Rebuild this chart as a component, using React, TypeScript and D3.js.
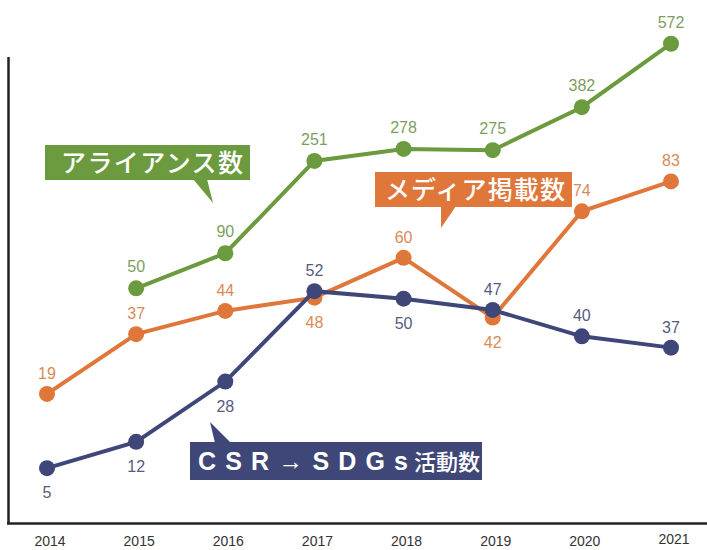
import React from "react";
import * as d3 from "d3";

const years = ["2014", "2015", "2016", "2017", "2018", "2019", "2020", "2021"];
const allianceYears = ["2015", "2016", "2017", "2018", "2019", "2020", "2021"];
const allianceValues = [50, 90, 251, 278, 275, 382, 572];
const mediaValues = [19, 37, 44, 48, 60, 42, 74, 83];
const sdgsValues = [5, 12, 28, 52, 50, 47, 40, 37];

const allianceLabel = "アライアンス数";
const mediaLabel = "メディア掲載数";
const sdgsLatin = "CSR→SDGs";
const sdgsKanji = "活動数";

// label placement: 1 = above the point, -1 = below
const mediaLabelSide = [1, 1, 1, -1, 1, -1, 1, 1];
const sdgsLabelSide = [-1, -1, -1, 1, -1, 1, 1, 1];

const GREEN = "#6b9a3f";
const GREEN_TXT = "#7d9e60";
const ORANGE = "#e0773a";
const ORANGE_TXT = "#d98a58";
const NAVY = "#3f4779";
const NAVY_TXT = "#555b80";

export default function App() {
  const W = 707;
  const H = 550;
  const x = d3.scalePoint<string>().domain(years).range([47, 671]);
  const yG = d3.scaleSqrt().domain([0, 625]).range([391, 28]);
  const yO = d3.scaleLinear().domain([0, 100]).range([457, 125]);
  const yB = d3.scaleLinear().domain([0, 60]).range([487, 261]);

  const lineGen = d3
    .line<[number, number]>()
    .x((d) => d[0])
    .y((d) => d[1]);

  const gPts: [number, number][] = allianceYears.map((yr, i) => [x(yr)!, yG(allianceValues[i])]);
  const oPts: [number, number][] = years.map((yr, i) => [x(yr)!, yO(mediaValues[i])]);
  const bPts: [number, number][] = years.map((yr, i) => [x(yr)!, yB(sdgsValues[i])]);

  const labelY = (py: number, side: number) => (side > 0 ? py - 15 : py + 30);
  const font = "'Liberation Sans', Arial, sans-serif";
  const jp = "'Noto Sans CJK JP', sans-serif";

  return (
    <svg
      width={W}
      height={H}
      style={{ position: "absolute", left: 0, top: 0, background: "#fff" }}
    >
      <rect x={0} y={0} width={W} height={H} fill="#fff" />
      {/* axes */}
      <line x1={8.5} y1={57} x2={8.5} y2={524} stroke="#222" strokeWidth={2.5} />
      <line x1={7} y1={523.5} x2={W} y2={523.5} stroke="#222" strokeWidth={2.5} />
      {years.map((yr, i) => (
        <text
          key={yr}
          x={x(yr)! + 3}
          y={i === years.length - 1 ? 544 : 546}
          textAnchor="middle"
          fontFamily={font}
          fontSize={14}
          fill="#333"
        >
          {yr}
        </text>
      ))}

      {/* green series */}
      <path d={lineGen(gPts)!} fill="none" stroke={GREEN} strokeWidth={4} />
      {gPts.map((p, i) => (
        <g key={"g" + i}>
          <circle cx={p[0]} cy={p[1]} r={8} fill={GREEN} />
          <text x={p[0]} y={p[1] - 16} textAnchor="middle" fontFamily={font} fontSize={16} fill={GREEN_TXT}>
            {allianceValues[i]}
          </text>
        </g>
      ))}

      {/* orange series */}
      <path d={lineGen(oPts)!} fill="none" stroke={ORANGE} strokeWidth={4} />
      {oPts.map((p, i) => (
        <g key={"o" + i}>
          <circle cx={p[0]} cy={p[1]} r={8} fill={ORANGE} />
          <text
            x={p[0]}
            y={labelY(p[1], mediaLabelSide[i])}
            textAnchor="middle"
            fontFamily={font}
            fontSize={16}
            fill={ORANGE_TXT}
          >
            {mediaValues[i]}
          </text>
        </g>
      ))}

      {/* navy series */}
      <path d={lineGen(bPts)!} fill="none" stroke={NAVY} strokeWidth={4} />
      {bPts.map((p, i) => (
        <g key={"b" + i}>
          <circle cx={p[0]} cy={p[1]} r={8} fill={NAVY} />
          <text
            x={p[0]}
            y={labelY(p[1], sdgsLabelSide[i])}
            textAnchor="middle"
            fontFamily={font}
            fontSize={16}
            fill={NAVY_TXT}
          >
            {sdgsValues[i]}
          </text>
        </g>
      ))}

      {/* legend callouts */}
      <g>
        <rect x={45} y={145} width={205} height={35} fill={GREEN} />
        <path d="M193,179 L207,179 L213,203 Z" fill={GREEN} />
        <text x={61} y={172} fontFamily={jp} fontWeight={500} fontSize={25} fill="#fff" textLength={182} lengthAdjust="spacing">
          {allianceLabel}
        </text>
      </g>
      <g>
        <rect x={375} y={172} width={197} height={35} fill={ORANGE} />
        <path d="M441,206 L456,206 L441,228 Z" fill={ORANGE} />
        <text x={385} y={199} fontFamily={jp} fontWeight={500} fontSize={25} fill="#fff" textLength={180} lengthAdjust="spacing">
          {mediaLabel}
        </text>
      </g>
      <g>
        <rect x={190} y={442} width={292} height={38} fill={NAVY} />
        <path d="M210,422 L215,443 L231,443 Z" fill={NAVY} />
        <text x={198} y={470} fontFamily={font} fontWeight="bold" fontSize={25} fill="#fff" textLength={210} lengthAdjust="spacing">
          {sdgsLatin}
        </text>
        <text x={414} y={470} fontFamily={jp} fontWeight={500} fontSize={22} fill="#fff">
          {sdgsKanji}
        </text>
      </g>
    </svg>
  );
}
